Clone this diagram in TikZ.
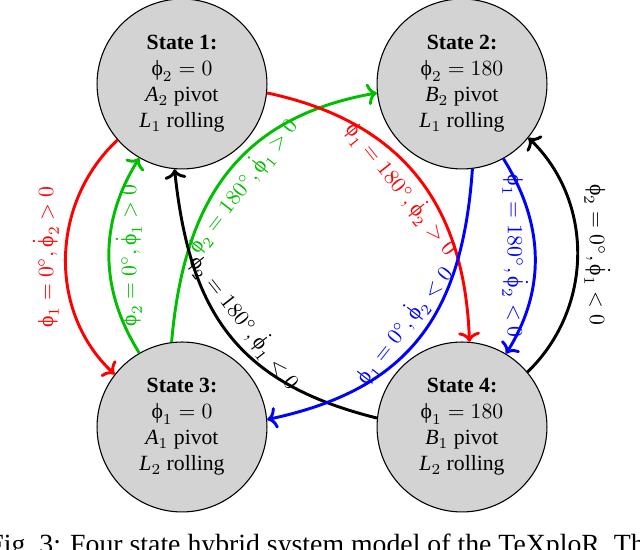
\documentclass[tikz,border=0pt]{standalone}
\usepackage{fontspec}
\setmainfont{Liberation Serif}
\usetikzlibrary{arrows.meta}
\definecolor{statefill}{RGB}{211,211,211}
\definecolor{mygreen}{RGB}{0,190,0}
\definecolor{myred}{RGB}{255,0,0}
\definecolor{myblue}{RGB}{0,0,255}
\newcommand{\vphi}{\mbox{ϕ}}
\newcommand{\dphi}{\dot{\mbox{ϕ}}}
\begin{document}
\begin{tikzpicture}[x=0.4608pt, y=0.4608pt,
  state/.style={circle, draw=black, line width=0.5pt, fill=statefill,
    minimum size=78.3pt, inner sep=0pt, align=center,
    font=\fontsize{10}{12}\selectfont},
  trans/.style={line width=1.35pt, -{To[length=4.5pt, width=10pt]}},
  lab/.style={font=\fontsize{10}{12}\selectfont, inner sep=2.5pt}]
\useasboundingbox (0,0) rectangle (640,550);
\clip (0,0) rectangle (640,550);

\node[state] (s1) at (182,466) {\textbf{State 1:}\\ $\vphi_2=0$\\ $\mathit{A}_2$ pivot\\ $\mathit{L}_1$ rolling};
\node[state] (s2) at (462,466) {\textbf{State 2:}\\ $\vphi_2=180$\\ $\mathit{B}_2$ pivot\\ $\mathit{L}_1$ rolling};
\node[state] (s3) at (182,123) {\textbf{State 3:}\\ $\vphi_1=0$\\ $\mathit{A}_1$ pivot\\ $\mathit{L}_2$ rolling};
\node[state] (s4) at (462,123) {\textbf{State 4:}\\ $\vphi_1=180$\\ $\mathit{B}_1$ pivot\\ $\mathit{L}_2$ rolling};

% left pair
\draw[trans, myred] (s1.221) to[out=223,in=137]
  node[lab, midway, rotate=90, anchor=south, text=myred] {$\vphi_1=0^\circ,\dphi_2>0$} (s3.142);
\draw[trans, mygreen] (s3.120) to[out=122,in=238]
  node[lab, midway, rotate=90, anchor=north, text=mygreen] {$\vphi_2=0^\circ,\dphi_1>0$} (s1.240);

% right pair
\draw[trans, myblue] (s2.299) to[out=302,in=58]
  node[lab, midway, rotate=-90, anchor=north, text=myblue] {$\vphi_1=180^\circ,\dphi_2<0$} (s4.59);
\draw[trans, black] (s4.40) to[out=44,in=-44]
  node[lab, midway, rotate=-90, anchor=south, text=black] {$\vphi_2=0^\circ,\dphi_1<0$} (s2.321);

% diagonals
\draw[trans, mygreen] (s3.97) to[out=85,in=190,looseness=1.12]
  node[lab, midway, sloped, below, text=mygreen] {$\vphi_2=180^\circ,\dphi_1>0$} (s2.186);
\draw[trans, black] (s4.174) to[out=166,in=276,looseness=1.15]
  node[lab, midway, sloped, above, text=black] {$\vphi_2=180^\circ,\dphi_1<0$} (s1.265);
\draw[trans, myred] (s1.354) to[out=-12,in=92,looseness=1.1]
  node[lab, midway, sloped, below, text=myred] {$\vphi_1=180^\circ,\dphi_2>0$} (s4.85);
\draw[trans, myblue] (s2.277) to[out=266,in=12,looseness=1.15]
  node[lab, midway, sloped, above, text=myblue] {$\vphi_1=0^\circ,\dphi_2<0$} (s3.5);

\node[anchor=base west, inner sep=0pt, font=\fontsize{12.8}{15}\selectfont] (cap) at (-12,-3.5)
  {Fig.~3: Four state hybrid system model of the TeXploR. The};
\end{tikzpicture}
\end{document}
